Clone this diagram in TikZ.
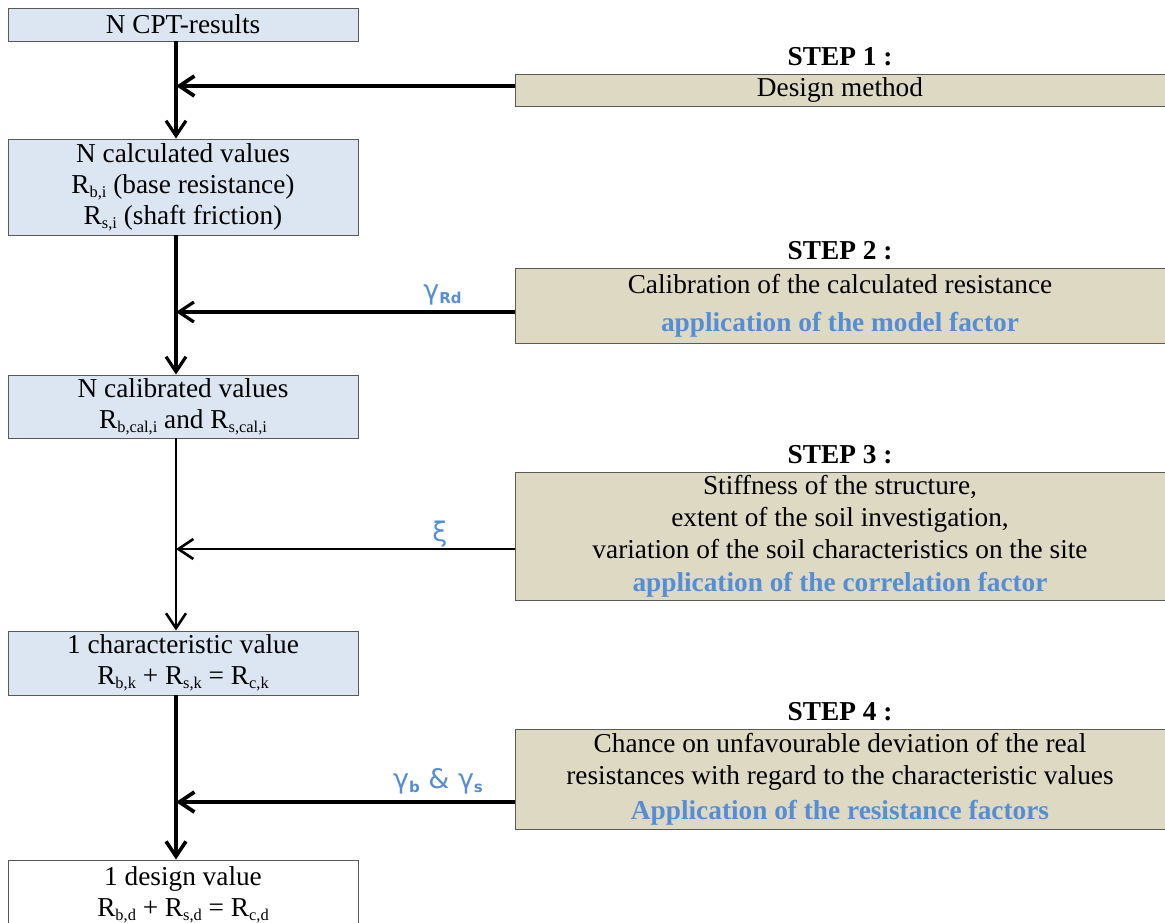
\documentclass[tikz,border=0pt]{standalone}
\usepackage{fontspec}
\setmainfont{Liberation Serif}
\newfontfamily\factorfont{DejaVu Sans}
\usetikzlibrary{arrows.meta,positioning}

\definecolor{resblue}{HTML}{DCE6F2}
\definecolor{steptan}{HTML}{DDD9C3}
\definecolor{factorblue}{HTML}{558ED5}

% lowered small index (R_{b,i} etc.)
\newcommand\rsub[1]{\raisebox{-4pt}{\fontsize{16.4pt}{17pt}\selectfont #1}}
\newcommand\fsub[1]{\raisebox{-4.5pt}{\fontsize{15pt}{15pt}\selectfont\bfseries #1}}
\newcommand\factortext[1]{{\bfseries\color{factorblue}#1}}

\tikzset{
  resbox/.style={draw=black!65, line width=0.8pt, fill=resblue, minimum width=350pt,
    inner sep=0pt, align=center, font=\fontsize{27.3pt}{31pt}\selectfont},
  stepbox/.style={draw=black!65, line width=0.8pt, fill=steptan, minimum width=650pt,
    inner sep=0pt, align=center, font=\fontsize{27.3pt}{32pt}\selectfont},
  steplabel/.style={font=\fontsize{27.3pt}{31pt}\selectfont\bfseries},
  factor/.style={anchor=base, text=factorblue, font=\factorfont\fontsize{27pt}{28pt}\selectfont},
  flow/.style={-{Straight Barb[length=15pt,width=20pt]}},
}

\begin{document}
\begin{tikzpicture}[x=1pt,y=-1pt]
  \useasboundingbox (0,0) rectangle (1165,923);

  % Resistance chain
  \node[resbox, minimum height=33pt] (cpt) at (183,24.5) {N CPT-results};
  \node[resbox, minimum height=96pt] (calc) at (183,187)
    {N calculated values\\R\rsub{b,i} (base resistance)\\R\rsub{s,i} (shaft friction)};
  \node[resbox, minimum height=63pt] (cal) at (183,406.5)
    {N calibrated values\\R\rsub{b,cal,i} and R\rsub{s,cal,i}};
  \node[resbox, minimum height=64pt] (char) at (183,663)
    {1 characteristic value\\R\rsub{b,k} + R\rsub{s,k} = R\rsub{c,k}};
  \node[resbox, fill=white, minimum height=70pt] (design) at (183,895)
    {1 design value\\R\rsub{b,d} + R\rsub{s,d} = R\rsub{c,d}};

  % Steps
  \node[stepbox, minimum height=32pt] (s1) at (840,90) {Design method};
  \node[stepbox, minimum height=75pt] (s2) at (840,305.5)
    {Calibration of the calculated resistance\\[6pt]\factortext{application of the model factor}};
  \node[stepbox, minimum height=128pt] (s3) at (840,536)
    {Stiffness of the structure,\\extent of the soil investigation,\\
     variation of the soil characteristics on the site\\[1pt]\factortext{application of the correlation factor}};
  \node[stepbox, minimum height=100pt] (s4) at (840,779)
    {Chance on unfavourable deviation of the real\\resistances with regard to the characteristic values\\[3pt]
     \factortext{Application of the resistance factors}};
  \foreach \i in {1,...,4}
    \node[steplabel, above=4pt of s\i] (st\i) {STEP \i\ :};

  % Arrows
  \coordinate (spine) at (176,0);
  \foreach \a/\b/\w in {cpt/calc/3.2pt, calc/cal/3.2pt, cal/char/2.6pt, char/design/3.6pt}
    \draw[flow, line width=\w] (\a.south -| spine) -- (\b.north -| spine);
  \foreach \i/\y/\w in {1/86/3.8pt, 2/312/3.2pt, 3/549/2.6pt, 4/802/3.8pt} {
    \coordinate (j\i) at (176,\y);
    \draw[flow, line width=\w] (j\i -| s\i.west) -- (j\i);
  }

  % Factors
  \node[factor] (f2) at (442.5,299) {γ\fsub{Rd}};
  \node[factor] (f3) at (440,541) {ξ};
  \node[factor] (f4) at (438,788) {γ\fsub{b} \& γ\fsub{s}};
\end{tikzpicture}
\end{document}
